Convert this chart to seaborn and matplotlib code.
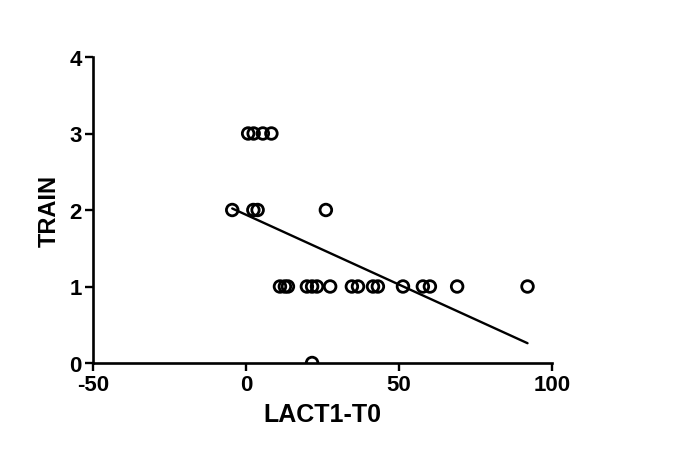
"""Scatter of TRAIN against LACT1-T0 with a linear fit."""

import matplotlib
matplotlib.use("Agg")
import matplotlib.pyplot as plt
import pandas as pd
import seaborn as sns

# values
lact_y3 = [0.7, 2.5, 5.5, 8.3]
lact_y2 = [-4.5, 2.4, 3.8, 26.1]
lact_y1 = [11.1, 12.7, 13.7, 19.9, 21.6, 23.2, 27.5, 34.6, 36.6,
           41.5, 43.1, 51.3, 57.8, 60.1, 69.0, 92.0]
lact_y0 = [21.6]

x_ticks = [-50, 0, 50, 100]
y_ticks = [0, 1, 2, 3, 4]

lact = lact_y3 + lact_y2 + lact_y1 + lact_y0
train = [3] * len(lact_y3) + [2] * len(lact_y2) + [1] * len(lact_y1) + [0] * len(lact_y0)
df = pd.DataFrame({"LACT1-T0": lact, "TRAIN": train})

sns.set_theme(style="ticks")
plt.rcParams["font.family"] = ["Liberation Sans", "DejaVu Sans"]
plt.rcParams["font.weight"] = "bold"
plt.rcParams["axes.unicode_minus"] = False
plt.rcParams["text.color"] = "black"
plt.rcParams["axes.labelcolor"] = "black"
plt.rcParams["xtick.color"] = "black"
plt.rcParams["ytick.color"] = "black"

fig = plt.figure(figsize=(6.97, 4.60), dpi=100)
ax = fig.add_axes([93 / 697, 1 - 364 / 460, (552 - 93) / 697, (364 - 58) / 460])

sns.regplot(
    data=df, x="LACT1-T0", y="TRAIN", ax=ax, ci=None, color="black",
    scatter_kws=dict(s=70, facecolors="none", linewidths=2.0, alpha=1, zorder=3),
    line_kws=dict(linewidth=1.7),
)

ax.set_xlim(-50, 100)
ax.set_ylim(0, 4)
ax.set_xticks(x_ticks)
ax.set_yticks(y_ticks)
ax.set_xlabel("LACT1-T0", fontsize=18, fontweight="bold", labelpad=5)
ax.set_ylabel("TRAIN", fontsize=17, fontweight="bold", labelpad=6)
ax.tick_params(axis="both", labelsize=16, width=1.7, length=6, pad=2)
for lab in ax.get_xticklabels() + ax.get_yticklabels():
    lab.set_fontweight("bold")

sns.despine(ax=ax)
for side in ["left", "bottom"]:
    ax.spines[side].set_linewidth(1.9)
    ax.spines[side].set_color("black")

fig.savefig("out.png", dpi=100)
plt.close(fig)
